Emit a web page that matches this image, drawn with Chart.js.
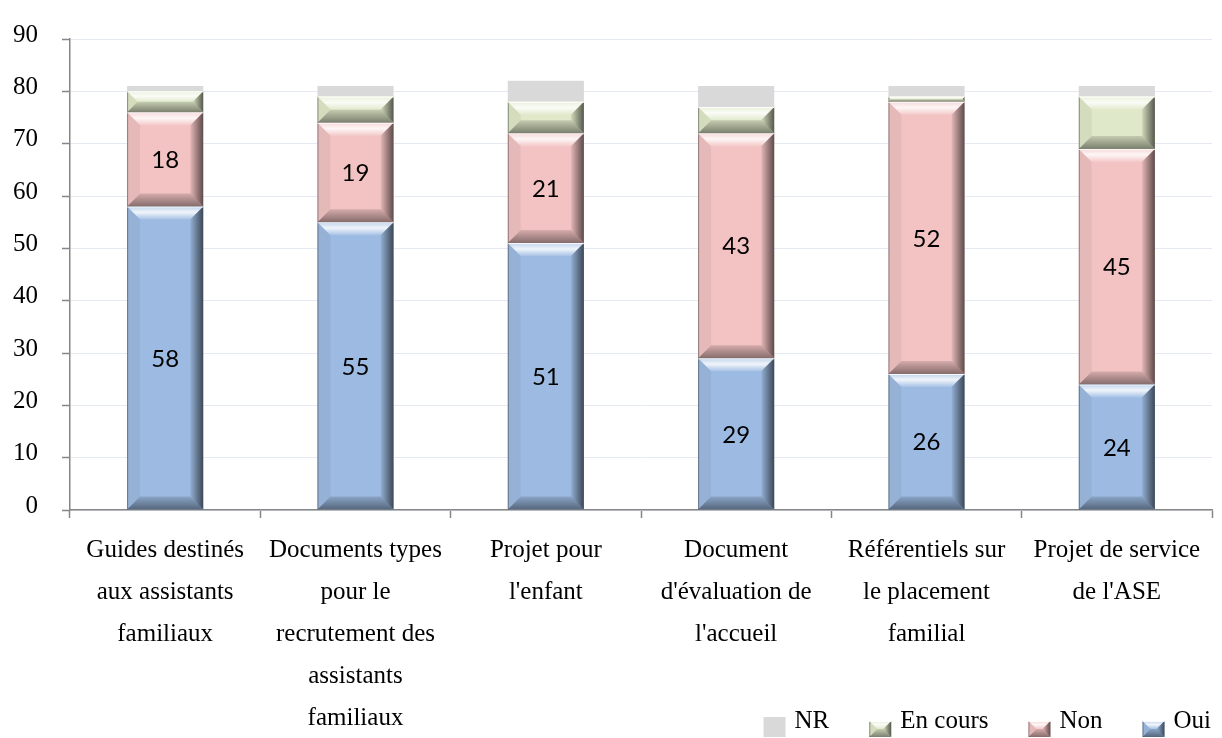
<!DOCTYPE html>
<html lang="fr">
<head>
<meta charset="utf-8">
<title>Outils de l'accueil familial</title>
<script src="https://cdn.jsdelivr.net/npm/chart.js@4.4.1/dist/chart.umd.min.js"></script>
<style>
  html, body { margin: 0; padding: 0; background: #fff; }
</style>
</head>
<body>
<canvas id="chart" width="1222" height="738"></canvas>
<script>
// catégories (libellés sur plusieurs lignes)
const categories = [
  ['Guides destinés', 'aux assistants', 'familiaux'],
  ['Documents types', 'pour le', 'recrutement des', 'assistants', 'familiaux'],
  ['Projet pour', "l'enfant"],
  ['Document', "d'évaluation de", "l'accueil"],
  ['Référentiels sur', 'le placement', 'familial'],
  ['Projet de service', "de l'ASE"]
];

// séries, de bas en haut dans la pile
const oui = [58, 55, 51, 29, 26, 24];
const non = [18, 19, 21, 43, 52, 45];
const enCours = [4, 5, 6, 5, 1, 10];
const nr = [1, 2, 4, 4, 2, 2];

const seriesNames = ['Oui', 'Non', 'En cours', 'NR'];
const seriesColors = ['#9dbbe2', '#f3c3c3', '#dfe8c8', '#d9d9d9'];
const labeledSeries = [0, 1];     // valeurs écrites dans les barres
const beveledSeries = [0, 1, 2];  // effet relief

const yMin = 0;
const yMax = 90;
const yStep = 10;

const serif = "'Liberation Serif', 'Times New Roman', serif";
const axisGray = '#868686';

function poly(ctx, pts, fill) {
  ctx.beginPath();
  ctx.moveTo(pts[0][0], pts[0][1]);
  for (let i = 1; i < pts.length; i++) ctx.lineTo(pts[i][0], pts[i][1]);
  ctx.closePath();
  ctx.fillStyle = fill;
  ctx.fill();
}

// relief façon "biseau" sur un rectangle
function drawBevel(ctx, l, t, r, btm, b) {
  if (b < 0.5) return;
  let g = ctx.createLinearGradient(0, t, 0, t + b);
  g.addColorStop(0, 'rgba(255,255,255,0.35)');
  g.addColorStop(0.45, 'rgba(255,255,255,0.85)');
  g.addColorStop(1, 'rgba(255,255,255,0.1)');
  poly(ctx, [[l, t], [r, t], [r - b, t + b], [l + b, t + b]], g);

  poly(ctx, [[l, t], [l + b, t + b], [l + b, btm - b], [l, btm]], 'rgba(0,0,0,0.05)');

  g = ctx.createLinearGradient(r - b, 0, r, 0);
  g.addColorStop(0, 'rgba(0,0,0,0.06)');
  g.addColorStop(1, 'rgba(0,0,0,0.62)');
  poly(ctx, [[r, t], [r, btm], [r - b, btm - b], [r - b, t + b]], g);

  g = ctx.createLinearGradient(0, btm - b, 0, btm);
  g.addColorStop(0, 'rgba(0,0,0,0.12)');
  g.addColorStop(1, 'rgba(0,0,0,0.45)');
  poly(ctx, [[l, btm], [r, btm], [r - b, btm - b], [l + b, btm - b]], g);

  ctx.fillStyle = 'rgba(40,40,40,0.45)';
  ctx.fillRect(l, t, 1, btm - t);
  ctx.fillStyle = 'rgba(255,255,255,0.9)';
  ctx.fillRect(l, t, r - l, 1);
}

const barDecorations = {
  id: 'barDecorations',
  afterDatasetsDraw(chart) {
    const ctx = chart.ctx;
    ctx.save();
    beveledSeries.forEach(i => {
      chart.getDatasetMeta(i).data.forEach(bar => {
        const p = bar.getProps(['x', 'y', 'base', 'width'], true);
        const l = p.x - p.width / 2, r = p.x + p.width / 2;
        const t = Math.min(p.y, p.base), btm = Math.max(p.y, p.base);
        drawBevel(ctx, l, t, r, btm, Math.min(13, (btm - t) / 2, p.width / 2));
      });
    });
    ctx.font = "24px Lato, 'Open Sans', sans-serif";
    ctx.fillStyle = '#000';
    ctx.textAlign = 'center';
    ctx.textBaseline = 'middle';
    labeledSeries.forEach(i => {
      const ds = chart.data.datasets[i];
      chart.getDatasetMeta(i).data.forEach((bar, j) => {
        const p = bar.getProps(['x', 'y', 'base'], true);
        ctx.fillText(String(ds.data[j]), p.x, (p.y + p.base) / 2 + 1);
      });
    });
    ctx.restore();
  }
};

// légende en bas à droite, ordre inversé (NR, En cours, Non, Oui)
const legendRight = {
  id: 'legendRight',
  afterDraw(chart) {
    const ctx = chart.ctx;
    ctx.save();
    ctx.font = '25px ' + serif;
    ctx.textBaseline = 'alphabetic';
    ctx.textAlign = 'left';
    const baseline = 728;
    let cursor = 1211;
    for (let i = 0; i < chart.data.datasets.length; i++) {
      const ds = chart.data.datasets[i];
      const w = ctx.measureText(ds.label).width;
      const tx = cursor - w;
      ctx.fillStyle = '#000';
      ctx.fillText(ds.label, tx, baseline);
      const bx = tx - 31;
      if (beveledSeries.includes(i)) {
        ctx.fillStyle = ds.backgroundColor;
        ctx.fillRect(bx, 721, 22, 16);
        drawBevel(ctx, bx, 721, bx + 22, 737, 8);
      } else {
        ctx.fillStyle = ds.backgroundColor;
        ctx.fillRect(bx, 717, 22, 20);
      }
      cursor = bx - 40;
    }
    ctx.restore();
  }
};

const seriesData = [oui, non, enCours, nr];

new Chart(document.getElementById('chart'), {
  type: 'bar',
  data: {
    labels: categories,
    datasets: seriesData.map((d, i) => ({
      label: seriesNames[i],
      data: d,
      backgroundColor: seriesColors[i],
      borderWidth: 0,
      categoryPercentage: 1,
      barPercentage: 0.4
    }))
  },
  options: {
    responsive: false,
    animation: false,
    layout: { padding: { top: 33, right: 10, bottom: 0, left: 0 } },
    plugins: {
      legend: { display: false },
      tooltip: { enabled: false }
    },
    scales: {
      x: {
        stacked: true,
        grid: {
          drawOnChartArea: false,
          drawTicks: true,
          tickLength: 8,
          tickColor: axisGray,
          tickWidth: 1.5
        },
        border: { color: axisGray, width: 1.5 },
        ticks: {
          color: '#000',
          font: { family: serif, size: 25, lineHeight: '42px' },
          padding: 11,
          maxRotation: 0,
          autoSkip: false
        },
        afterFit(scale) { scale.height = 228; }
      },
      y: {
        stacked: true,
        min: yMin,
        max: yMax,
        ticks: {
          stepSize: yStep,
          color: '#000',
          font: { family: serif, size: 25 },
          padding: 24,
          labelOffset: -4
        },
        grid: {
          color: '#e5eaf2',
          lineWidth: 1,
          tickColor: axisGray,
          tickLength: 8,
          tickWidth: 1.5
        },
        border: { color: axisGray, width: 1.5 },
        afterFit(scale) { scale.width = 70; }
      }
    }
  },
  plugins: [barDecorations, legendRight]
});
</script>
</body>
</html>
